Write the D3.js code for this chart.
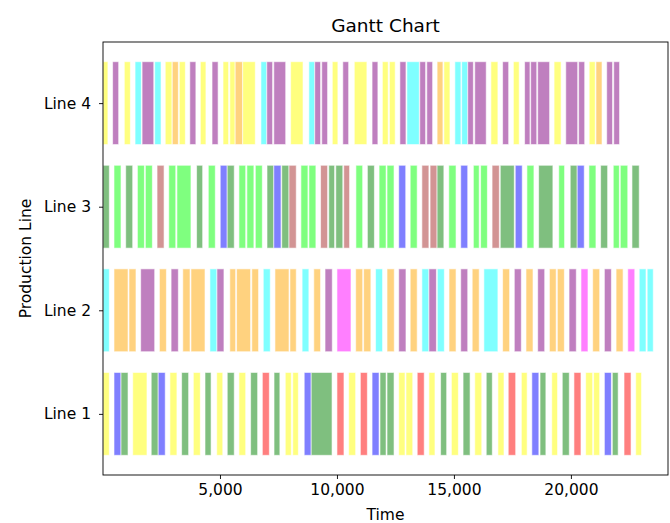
<!DOCTYPE html>
<html>
<head>
<meta charset="utf-8">
<script src="https://cdn.jsdelivr.net/npm/d3@7"></script>
<style>
  html, body { margin: 0; padding: 0; background: #fff; }
  svg text { font-family: "DejaVu Sans", sans-serif; fill: #000; }
</style>
</head>
<body>
<div id="chart"></div>
<script>
// Production lines, bottom to top
const lines = ['Line 1', 'Line 2', 'Line 3', 'Line 4'];

// Tasks per line: [start, end, product]
const line1Tasks = [
  [0, 270, 'Y'], [470, 770, 'B'], [770, 1070, 'G'], [1270, 1880, 'Y'], [2060, 2360, 'G'],
  [2360, 2660, 'B'], [2860, 3160, 'Y'], [3360, 3660, 'G'], [3860, 4160, 'Y'], [4360, 4620, 'G'],
  [4860, 5120, 'Y'], [5310, 5610, 'G'], [5810, 6100, 'Y'], [6310, 6610, 'G'], [6810, 7110, 'R'],
  [7310, 7560, 'G'], [7790, 8050, 'Y'], [8110, 8350, 'Y'], [8600, 8900, 'B'], [8900, 9790, 'G'],
  [10000, 10300, 'R'], [10500, 10800, 'Y'], [11000, 11300, 'R'], [11500, 11800, 'B'], [11840, 12100, 'G'],
  [12140, 12440, 'G'], [12640, 12910, 'Y'], [12950, 13240, 'Y'], [13430, 13730, 'R'], [13930, 14190, 'Y'],
  [14430, 14690, 'G'], [14890, 15190, 'Y'], [15390, 15690, 'G'], [15890, 16190, 'Y'], [16380, 16640, 'G'],
  [16880, 17140, 'Y'], [17320, 17640, 'R'], [17880, 18130, 'Y'], [18330, 18630, 'B'], [18680, 18930, 'G'],
  [19180, 19430, 'Y'], [19630, 19930, 'G'], [20130, 20430, 'R'], [20630, 20930, 'Y'], [20970, 21230, 'Y'],
  [21430, 21730, 'B'], [21770, 22020, 'G'], [22270, 22570, 'R'], [22770, 23020, 'Y']
];
const line2Tasks = [
  [0, 270, 'C'], [470, 1070, 'O'], [1110, 1410, 'O'], [1610, 2210, 'P'], [2410, 2710, 'O'],
  [2910, 3220, 'P'], [3410, 3720, 'O'], [3760, 4360, 'O'], [4570, 4870, 'C'], [4870, 5170, 'P'],
  [5420, 5670, 'O'], [5710, 6310, 'O'], [6360, 6650, 'O'], [6850, 7150, 'C'], [7350, 7950, 'O'],
  [7990, 8260, 'O'], [8510, 8800, 'C'], [9010, 9300, 'O'], [9490, 9800, 'P'], [10000, 10600, 'M'],
  [10800, 11100, 'O'], [11140, 11450, 'O'], [11650, 11950, 'C'], [12140, 12450, 'O'], [12640, 12950, 'P'],
  [13130, 13430, 'O'], [13630, 13930, 'C'], [13930, 14250, 'P'], [14290, 14590, 'C'], [14790, 15090, 'O'],
  [15290, 15590, 'P'], [15780, 16080, 'O'], [16280, 16880, 'C'], [17080, 17380, 'O'], [17580, 17880, 'P'],
  [18080, 18380, 'O'], [18580, 18880, 'P'], [19080, 19370, 'O'], [19420, 19720, 'O'], [19920, 20230, 'P'],
  [20430, 20730, 'M'], [20930, 21230, 'O'], [21430, 21730, 'P'], [21930, 22230, 'O'], [22430, 22730, 'M'],
  [22920, 23210, 'C'], [23260, 23520, 'C']
];
const line3Tasks = [
  [0, 270, 'G'], [470, 770, 'L'], [970, 1270, 'G'], [1470, 1770, 'L'], [1810, 2110, 'L'],
  [2310, 2610, 'N'], [2810, 3110, 'L'], [3160, 3760, 'L'], [4000, 4260, 'G'], [4500, 4800, 'L'],
  [5010, 5310, 'B'], [5310, 5610, 'G'], [5810, 6100, 'L'], [6150, 6450, 'L'], [6510, 6810, 'L'],
  [7010, 7300, 'G'], [7300, 7610, 'B'], [7640, 7950, 'G'], [7950, 8260, 'N'], [8460, 8760, 'L'],
  [8800, 9100, 'L'], [9300, 9600, 'N'], [9650, 9900, 'G'], [9950, 10250, 'G'], [10290, 10540, 'N'],
  [10810, 11100, 'L'], [11300, 11600, 'G'], [11800, 12100, 'L'], [12140, 12440, 'L'], [12640, 12940, 'B'],
  [13130, 13430, 'L'], [13630, 13930, 'N'], [13980, 14280, 'N'], [14280, 14570, 'G'], [14780, 15090, 'L'],
  [15290, 15590, 'B'], [15830, 16080, 'L'], [16140, 16430, 'L'], [16630, 16940, 'N'], [16980, 17580, 'G'],
  [17620, 17920, 'B'], [18120, 18420, 'L'], [18620, 19230, 'G'], [19480, 19730, 'L'], [19970, 20270, 'G'],
  [20270, 20570, 'B'], [20770, 21070, 'L'], [21270, 21570, 'G'], [21810, 22070, 'L'], [22110, 22430, 'L'],
  [22610, 22920, 'G']
];
const line4Tasks = [
  [0, 210, 'Y'], [410, 670, 'P'], [910, 1170, 'Y'], [1370, 1640, 'C'], [1670, 2170, 'P'],
  [2210, 2480, 'C'], [2660, 2950, 'Y'], [2960, 3220, 'O'], [3260, 3520, 'Y'], [3710, 3970, 'P'],
  [4160, 4400, 'Y'], [4660, 4920, 'P'], [5130, 5370, 'Y'], [5420, 5650, 'Y'], [5650, 5970, 'O'],
  [5970, 6510, 'Y'], [6750, 7000, 'C'], [7000, 7250, 'P'], [7300, 7810, 'P'], [8020, 8550, 'Y'],
  [8800, 9050, 'C'], [9050, 9300, 'P'], [9350, 9600, 'P'], [9800, 10040, 'Y'], [10250, 10500, 'P'],
  [10740, 11280, 'Y'], [11500, 11750, 'P'], [11940, 12190, 'Y'], [12240, 12490, 'Y'], [12690, 12950, 'P'],
  [12990, 13520, 'C'], [13540, 13790, 'P'], [13840, 14090, 'P'], [14280, 14530, 'O'], [14570, 14830, 'Y'],
  [15040, 15300, 'C'], [15330, 15590, 'C'], [15590, 15830, 'P'], [15890, 16380, 'P'], [16580, 16880, 'Y'],
  [17080, 17340, 'P'], [17540, 17790, 'Y'], [18020, 18250, 'P'], [18280, 18540, 'P'], [18580, 19090, 'P'],
  [19280, 19580, 'Y'], [19780, 20290, 'P'], [20330, 20590, 'P'], [20780, 21040, 'Y'], [21070, 21330, 'O'],
  [21530, 21780, 'P'], [21830, 22080, 'P']
];

const xTicks = [5000, 10000, 15000, 20000];
const products = ['Y', 'P', 'C', 'O', 'G', 'L', 'B', 'N', 'R', 'M'];
const productColors = ['yellow', 'purple', 'cyan', 'orange', 'green', 'lime', 'blue', 'brown', 'red', 'magenta'];

const width = 670, height = 523;
const margin = { top: 42, right: 2, bottom: 48, left: 103 };

const svg = d3.select('#chart').append('svg')
  .attr('width', width).attr('height', height);

const x = d3.scaleLinear()
  .domain([0, 24150])
  .range([margin.left, width - margin.right]);

// categorical rows on a numeric axis, 0.8 bar height, 5% margins like matplotlib
const y = d3.scaleLinear()
  .domain([-0.59, lines.length - 1 + 0.59])
  .range([height - margin.bottom, margin.top]);

const color = d3.scaleOrdinal().domain(products).range(productColors);

const rows = [line1Tasks, line2Tasks, line3Tasks, line4Tasks];
const tasks = rows.flatMap((r, i) => r.map(t => ({ row: i, start: t[0], end: t[1], product: t[2] })));

svg.append('g').selectAll('rect').data(tasks).enter().append('rect')
  .attr('x', d => x(d.start))
  .attr('width', d => x(d.end) - x(d.start))
  .attr('y', d => y(d.row + 0.4))
  .attr('height', d => y(d.row - 0.4) - y(d.row + 0.4))
  .attr('fill', d => color(d.product))
  .attr('fill-opacity', 0.5)
  .attr('stroke', '#fff')
  .attr('stroke-opacity', 0.6)
  .attr('stroke-width', 1);

// axes
const xAxis = svg.append('g')
  .attr('transform', `translate(0,${height - margin.bottom})`)
  .call(d3.axisBottom(x).tickValues(xTicks).tickFormat(d3.format(',')).tickSizeOuter(0).tickSize(4).tickPadding(5));

const yAxis = svg.append('g')
  .attr('transform', `translate(${margin.left},0)`)
  .call(d3.axisLeft(y).tickValues(d3.range(lines.length)).tickFormat(i => lines[i]).tickSizeOuter(0).tickSize(4).tickPadding(8));

[xAxis, yAxis].forEach(g => {
  g.select('.domain').remove();
  g.selectAll('text').style('font-size', '15.5px').attr('fill', '#000');
  g.selectAll('line').attr('stroke', '#000').attr('stroke-width', 0.9);
});

// frame
svg.append('rect')
  .attr('x', margin.left).attr('y', margin.top)
  .attr('width', width - margin.right - margin.left)
  .attr('height', height - margin.bottom - margin.top)
  .attr('fill', 'none').attr('stroke', '#000').attr('stroke-width', 0.9);

svg.append('text')
  .attr('x', (margin.left + width - margin.right) / 2).attr('y', 32)
  .attr('text-anchor', 'middle').style('font-size', '18.5px')
  .text('Gantt Chart');

svg.append('text')
  .attr('x', (margin.left + width - margin.right) / 2).attr('y', 520)
  .attr('text-anchor', 'middle').style('font-size', '15.5px')
  .text('Time');

svg.append('text')
  .attr('transform', `translate(31,${(margin.top + height - margin.bottom) / 2}) rotate(-90)`)
  .attr('text-anchor', 'middle').style('font-size', '15.5px')
  .text('Production Line');
</script>
</body>
</html>
